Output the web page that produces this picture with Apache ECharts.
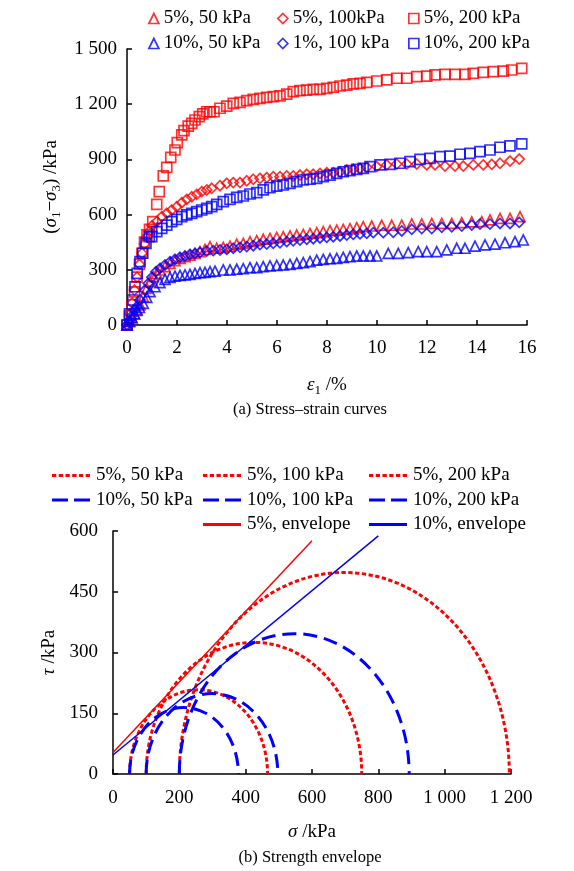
<!DOCTYPE html>
<html>
<head>
<meta charset="utf-8">
<script src="https://cdn.jsdelivr.net/npm/echarts@6/dist/echarts.min.js"></script>
<style>
  html, body { margin: 0; padding: 0; background: #fff; }
  #main { width: 574px; height: 871px; }
</style>
</head>
<body>
<div id="main"></div>
<script type="text/javascript">
// (a) strain (%) / deviator stress (kPa)
var r50 = [[0,0],[0.1,20],[0.2,40],[0.3,60],[0.4,85],[0.52,109],[0.65,154],[0.79,199],[0.92,236],[1.05,263],[1.19,281],[1.32,299],[1.52,317],[1.72,335],[1.92,350],[2.12,362],[2.32,371],[2.52,380],[2.72,389],[2.92,399],[3.12,411],[3.32,426],[3.59,417],[3.85,422],[4.12,429],[4.39,440],[4.65,444],[4.92,453],[5.19,458],[5.45,466],[5.72,471],[5.99,476],[6.25,480],[6.52,484],[6.79,489],[7.05,493],[7.32,498],[7.59,502],[7.85,507],[8.12,513],[8.39,516],[8.65,520],[8.92,524],[9.19,529],[9.45,534],[9.79,538],[10.19,542],[10.59,542],[10.99,543],[11.39,549],[11.79,549],[12.19,552],[12.59,552],[12.99,552],[13.39,556],[13.79,560],[14.19,562],[14.52,571],[14.92,580],[15.32,580],[15.72,589]];
var r100 = [[0,0],[0.1,60],[0.2,120],[0.3,190],[0.4,260],[0.5,330],[0.6,390],[0.7,440],[0.8,480],[0.9,510],[1.0,540],[1.19,562],[1.39,589],[1.59,607],[1.79,625],[1.99,643],[2.19,665],[2.39,683],[2.59,697],[2.79,710],[2.99,725],[3.19,734],[3.39,743],[3.72,757],[3.99,770],[4.25,774],[4.52,774],[4.79,784],[5.05,792],[5.32,797],[5.59,801],[5.85,806],[6.12,806],[6.39,810],[6.65,810],[6.92,815],[7.19,819],[7.45,819],[7.72,824],[7.99,828],[8.25,828],[8.52,833],[8.79,842],[9.05,846],[9.32,851],[9.59,857],[9.99,861],[10.39,870],[10.79,875],[11.19,875],[11.59,875],[11.99,870],[12.32,870],[12.72,864],[13.12,864],[13.45,864],[13.85,870],[14.25,870],[14.59,873],[14.92,879],[15.32,891],[15.69,902]];
var r200 = [[0,0],[0.1,50],[0.2,110],[0.3,180],[0.4,260],[0.5,330],[0.6,390],[0.7,450],[0.8,490],[0.9,520],[1.03,562],[1.19,656],[1.29,725],[1.45,810],[1.59,857],[1.75,911],[1.92,951],[2.01,991],[2.19,1033],[2.28,1056],[2.45,1081],[2.59,1096],[2.72,1114],[2.89,1132],[3.03,1147],[3.19,1159],[3.32,1159],[3.48,1159],[3.72,1178],[3.99,1190],[4.25,1205],[4.52,1210],[4.79,1219],[5.05,1226],[5.32,1232],[5.59,1237],[5.85,1241],[6.12,1245],[6.39,1255],[6.65,1268],[6.92,1274],[7.19,1277],[7.45,1281],[7.72,1281],[7.99,1286],[8.25,1292],[8.52,1299],[8.79,1304],[9.05,1310],[9.32,1313],[9.59,1319],[9.99,1326],[10.39,1332],[10.79,1341],[11.19,1341],[11.59,1350],[11.99,1353],[12.32,1359],[12.72,1362],[13.12,1362],[13.52,1362],[13.85,1368],[14.25,1373],[14.65,1377],[15.05,1380],[15.39,1386],[15.79,1395]];
var b50 = [[0,0],[0.1,20],[0.2,40],[0.3,60],[0.4,80],[0.5,95],[0.65,118],[0.79,150],[0.92,181],[1.12,208],[1.32,230],[1.52,248],[1.72,259],[1.92,266],[2.12,270],[2.32,272],[2.52,275],[2.72,281],[2.92,284],[3.12,286],[3.32,290],[3.52,293],[3.85,299],[4.12,299],[4.39,303],[4.65,306],[4.92,312],[5.19,312],[5.45,317],[5.72,321],[5.99,324],[6.25,326],[6.52,330],[6.79,335],[7.05,339],[7.32,344],[7.59,353],[7.85,357],[8.12,360],[8.39,362],[8.65,368],[8.92,371],[9.19,375],[9.45,375],[9.72,375],[9.99,375],[10.45,389],[10.85,389],[11.25,393],[11.65,399],[11.99,399],[12.39,399],[12.79,408],[13.19,417],[13.52,417],[13.92,429],[14.32,435],[14.72,440],[15.12,447],[15.52,453],[15.85,462]];
var b100 = [[0,0],[0.1,25],[0.2,50],[0.3,80],[0.39,100],[0.52,136],[0.72,190],[0.85,226],[0.99,259],[1.16,290],[1.32,308],[1.52,326],[1.72,344],[1.92,357],[2.12,368],[2.32,375],[2.52,384],[2.72,389],[2.92,395],[3.19,402],[3.45,404],[3.72,408],[3.99,411],[4.25,417],[4.52,422],[4.79,426],[5.05,431],[5.32,437],[5.59,440],[5.85,444],[6.12,447],[6.39,453],[6.65,458],[6.92,462],[7.19,466],[7.45,469],[7.72,473],[7.99,476],[8.25,480],[8.52,484],[8.79,489],[9.05,493],[9.32,495],[9.59,498],[9.85,502],[10.25,502],[10.65,504],[10.99,511],[11.39,520],[11.79,524],[12.19,524],[12.59,531],[12.99,534],[13.39,538],[13.79,543],[14.12,549],[14.52,549],[14.92,552],[15.32,552],[15.69,558]];
var b200 = [[0,0],[0.1,60],[0.23,136],[0.32,208],[0.41,281],[0.52,344],[0.63,390],[0.76,444],[0.89,480],[0.99,480],[1.19,507],[1.39,525],[1.59,543],[1.79,562],[1.99,574],[2.19,589],[2.39,598],[2.59,607],[2.79,616],[2.99,625],[3.19,634],[3.39,643],[3.59,656],[3.85,670],[4.12,683],[4.39,694],[4.65,701],[4.92,712],[5.19,719],[5.45,734],[5.72,746],[5.99,755],[6.25,761],[6.52,770],[6.79,779],[7.05,788],[7.32,792],[7.59,797],[7.85,806],[8.12,815],[8.39,824],[8.65,833],[8.92,839],[9.19,846],[9.45,851],[9.72,861],[10.12,870],[10.52,873],[10.92,879],[11.32,888],[11.72,900],[12.12,906],[12.52,915],[12.92,918],[13.32,928],[13.72,933],[14.12,942],[14.52,951],[14.92,966],[15.32,973],[15.79,984]];

// (b) Mohr circles: [sigma3, sigma1] in kPa
var mohr5 = [[50,466],[100,750],[200,1195]];
var mohr10 = [[50,378],[100,497],[200,893]];
// envelope end points [sigma, tau]
var env5 = [[0,53],[600,576]];
var env10 = [[0,47],[800,588]];

var names5 = ['5%, 50 kPa', '5%, 100 kPa', '5%, 200 kPa'];
var names10 = ['10%, 50 kPa', '10%, 100 kPa', '10%, 200 kPa'];

var RED = '#ff0000', BLUE = '#0000ff';
var FONT = 'Liberation Serif';

function thousands(v) {
    var s = String(v);
    return s.length > 3 ? s.slice(0, s.length - 3) + ' ' + s.slice(-3) : s;
}

var nameRich = {
    i: { fontFamily: FONT, fontSize: 19, fontStyle: 'italic', lineHeight: 24, color: '#000' },
    s: { fontFamily: FONT, fontSize: 13, verticalAlign: 'bottom', lineHeight: 14, color: '#000' },
    n: { fontFamily: FONT, fontSize: 19, lineHeight: 24, color: '#000' }
};

function axisBase(extra, margin) {
    var a = {
        axisLine: { lineStyle: { color: '#000', width: 1.5 } },
        axisTick: { inside: true, length: 5, lineStyle: { color: '#000', width: 1.5 } },
        axisLabel: { color: '#000', fontFamily: FONT, fontSize: 19, formatter: thousands, margin: margin },
        splitLine: { show: false },
        nameLocation: 'middle',
        nameTextStyle: { rich: nameRich }
    };
    for (var k in extra) a[k] = extra[k];
    return a;
}

function scatter(name, data, symbol, color, size) {
    return {
        name: name, type: 'scatter', xAxisIndex: 0, yAxisIndex: 0,
        data: data, symbol: symbol, symbolSize: size,
        itemStyle: { color: 'transparent', borderColor: color, borderWidth: 1.7 }
    };
}

function circleSeries(name, item, color, dash) {
    return {
        name: name, type: 'custom', xAxisIndex: 1, yAxisIndex: 1, clip: true,
        data: [item],
        renderItem: function (params, api) {
            var s3 = api.value(0), s1 = api.value(1);
            var r = (s1 - s3) / 2;
            var c = api.coord([(s1 + s3) / 2, 0]);
            var rx = api.size([r, 0])[0];
            var ry = api.size([0, r])[1];
            return {
                type: 'ellipse',
                shape: { cx: c[0], cy: c[1], rx: rx, ry: ry },
                style: { fill: 'none', stroke: color, lineWidth: 3, lineDash: dash }
            };
        }
    };
}

var dotIcon = 'path://M0,0h4.3v3h-4.3z M6.74,0h4.3v3h-4.3z M13.48,0h4.3v3h-4.3z M20.22,0h4.3v3h-4.3z M26.96,0h4.3v3h-4.3z M33.7,0h4.3v3h-4.3z';
var dashIcon = 'path://M0,0h16v3h-16z M22,0h16v3h-16z';
var solidIcon = 'path://M0,0h38v3h-38z';

function topLegend(left, items) {
    return {
        orient: 'vertical', left: left, top: 9, itemGap: 6, padding: 0,
        itemWidth: 10, itemHeight: 10,
        textStyle: { fontFamily: FONT, fontSize: 19, color: '#000' },
        selectedMode: false,
        data: items
    };
}
function botLegend(left, top, items) {
    return {
        orient: 'vertical', left: left, top: top, itemGap: 5.5, padding: 0,
        itemWidth: 38, itemHeight: 3,
        textStyle: { fontFamily: FONT, fontSize: 19, color: '#000', padding: [0, 0, 0, 1] },
        selectedMode: false,
        data: items
    };
}
function mk(name, color) {
    return { name: name, itemStyle: { color: 'transparent', borderColor: color, borderWidth: 1.7 } };
}
function ic(name, icon, color) {
    return { name: name, icon: icon, itemStyle: { color: color, borderWidth: 0 } };
}

var series = [
    scatter('5%, 50 kPa ', r50, 'triangle', RED, 10),
    scatter('5%, 100kPa', r100, 'diamond', RED, 10),
    scatter('5%, 200 kPa ', r200, 'rect', RED, 10),
    scatter('10%, 50 kPa ', b50, 'triangle', BLUE, 10),
    scatter('1%, 100 kPa', b100, 'diamond', BLUE, 10),
    scatter('10%, 200 kPa ', b200, 'rect', BLUE, 10)
];
for (var i = 0; i < 3; i++) {
    series.push(circleSeries(names5[i], mohr5[i], RED, [4.3, 2.5]));
}
for (var j = 0; j < 3; j++) {
    series.push(circleSeries(names10[j], mohr10[j], BLUE, [14, 7]));
}
series.push({ name: '5%, envelope', type: 'line', xAxisIndex: 1, yAxisIndex: 1, data: env5,
    symbol: 'none', lineStyle: { color: RED, width: 1.5 }, itemStyle: { color: RED } });
series.push({ name: '10%, envelope', type: 'line', xAxisIndex: 1, yAxisIndex: 1, data: env10,
    symbol: 'none', lineStyle: { color: BLUE, width: 1.5 }, itemStyle: { color: BLUE } });

var chart = echarts.init(document.getElementById('main'), null, { renderer: 'canvas' });
chart.setOption({
    backgroundColor: '#fff',
    animation: false,
    grid: [
        { left: 127, top: 49, width: 400, height: 276 },
        { left: 113, top: 531, width: 398, height: 243 }
    ],
    xAxis: [
        axisBase({ gridIndex: 0, type: 'value', min: 0, max: 16, interval: 2,
            name: '{i|ε}{s|1}{n| /%}', nameGap: 48 }, 14),
        axisBase({ gridIndex: 1, type: 'value', min: 0, max: 1200, interval: 200,
            name: '{i|σ}{n| /kPa}', nameGap: 46 }, 15)
    ],
    yAxis: [
        axisBase({ gridIndex: 0, type: 'value', min: 0, max: 1500, interval: 300,
            name: '{n|(}{i|σ}{s|1}{n|−}{i|σ}{s|3}{n|) /kPa}', nameGap: 53, nameRotate: 90 }, 10),
        axisBase({ gridIndex: 1, type: 'value', min: 0, max: 600, interval: 150,
            name: '{i|τ}{n| /kPa}', nameGap: 46, nameRotate: 90 }, 15)
    ],
    legend: [
        topLegend(148, [mk('5%, 50 kPa ', RED), mk('10%, 50 kPa ', BLUE)]),
        topLegend(277, [mk('5%, 100kPa', RED), mk('1%, 100 kPa', BLUE)]),
        topLegend(408, [mk('5%, 200 kPa ', RED), mk('10%, 200 kPa ', BLUE)]),
        botLegend(52, 466, [ic(names5[0], dotIcon, RED), ic(names10[0], dashIcon, BLUE)]),
        botLegend(203, 466, [ic(names5[1], dotIcon, RED), ic(names10[1], dashIcon, BLUE), ic('5%, envelope', solidIcon, RED)]),
        botLegend(369, 466, [ic(names5[2], dotIcon, RED), ic(names10[2], dashIcon, BLUE), ic('10%, envelope', solidIcon, BLUE)])
    ],
    graphic: [
        { type: 'text', x: 310, y: 410, style: { text: '(a) Stress–strain curves', fontFamily: FONT, fontSize: 16.5,
            fill: '#000', align: 'center', verticalAlign: 'middle' } },
        { type: 'text', x: 310, y: 858, style: { text: '(b) Strength envelope', fontFamily: FONT, fontSize: 16.5,
            fill: '#000', align: 'center', verticalAlign: 'middle' } }
    ],
    series: series
});
</script>
</body>
</html>
